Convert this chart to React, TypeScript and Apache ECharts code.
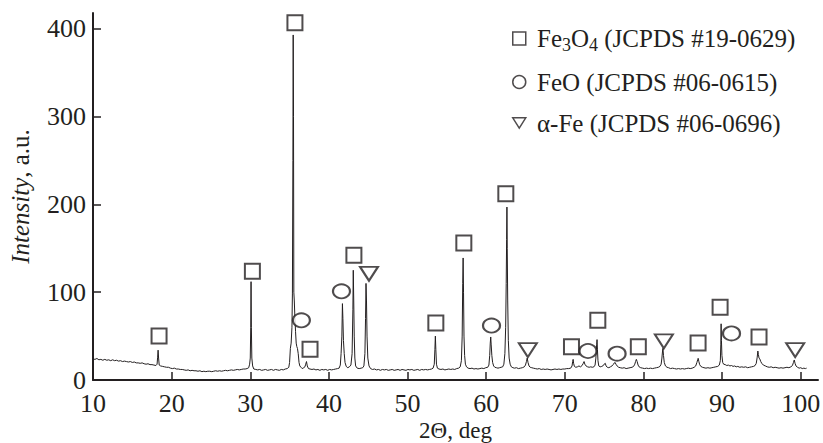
import { useEffect, useRef } from "react";
import * as echarts from "echarts";

// 2θ (deg), intensity (a.u.)
const xrdPattern: [number, number][] = [
  [10.0,24],[10.25,23.5],[10.5,24.5],[10.75,23],[11.0,23.5],[11.25,22.5],[11.5,23.5],[11.75,22.5],[12.0,23],[12.25,22],[12.5,23],[12.75,22],[13.0,22.5],[13.25,21.5],[13.5,22],[13.75,21],[14.0,21.5],[14.25,21],[14.5,20.5],[14.75,21],[15.0,20],[15.25,20.5],[15.5,19.5],[15.75,19.5],[16.0,19],[16.25,19.5],[16.5,18.5],[16.75,18],[17.0,18.5],[17.25,17.5],[17.5,17.5],[17.75,17],[18.0,16.5],[18.15,18],[18.22,26],[18.28,34],[18.34,25],[18.42,17],[18.6,16],[18.85,15.5],[19.1,15],[19.35,14.5],[19.6,14.5],[19.85,13.5],[20.1,13],[20.35,13.5],[20.6,12.5],[20.85,12.5],[21.1,12],[21.35,12],[21.6,11.5],[21.85,11],[22.1,11.5],[22.35,10.5],[22.6,11],[22.85,10.5],[23.1,10.5],[23.35,10],[23.6,10.5],[23.85,9.5],[24.1,10],[24.35,9.5],[24.6,10],[24.85,10],[25.1,9.5],[25.35,10],[25.6,10.5],[25.85,10],[26.1,10.5],[26.35,10],[26.6,10.5],[26.85,11],[27.1,10.5],[27.35,11],[27.6,11.5],[27.85,11],[28.1,11.5],[28.35,12],[28.6,11.5],[28.85,12],[29.1,12.5],[29.35,12.5],[29.6,13],[29.8,14],[29.92,18],[30.0,25],[30.06,60],[30.1,112],[30.14,60],[30.2,25],[30.3,16],[30.45,12.5],[30.7,12],[30.95,11.5],[31.2,12],[31.45,11],[31.7,11.5],[31.95,12],[32.2,11],[32.45,11.5],[32.7,12],[32.95,11],[33.2,12],[33.45,11.5],[33.7,11],[33.95,12],[34.2,11.5],[34.45,12.5],[34.7,13],[34.9,14.5],[35.0,20],[35.1,36],[35.2,42],[35.3,60],[35.36,99],[35.42,250],[35.46,393],[35.5,300],[35.54,100],[35.6,90],[35.68,70],[35.76,55],[35.84,42],[35.92,38],[36.0,36],[36.1,30],[36.2,20],[36.3,16],[36.45,14.5],[36.6,13],[36.8,14],[36.95,15],[37.05,18],[37.15,21],[37.25,16],[37.4,13],[37.6,12.5],[37.85,12],[38.1,12.5],[38.35,11.5],[38.6,12],[38.85,11],[39.1,12],[39.35,11.5],[39.6,12],[39.85,11],[40.1,12],[40.35,11.5],[40.6,12],[40.85,12.5],[41.1,13],[41.3,13.5],[41.45,17],[41.55,30],[41.65,50],[41.72,87],[41.78,70],[41.85,45],[41.95,30],[42.05,20],[42.2,15.5],[42.4,14],[42.6,15],[42.8,17],[42.95,30],[43.05,80],[43.1,125],[43.16,90],[43.22,50],[43.3,25],[43.4,16],[43.6,13.5],[43.85,13],[44.1,13.5],[44.3,14],[44.45,16],[44.58,30],[44.66,70],[44.72,110],[44.78,90],[44.85,50],[44.95,25],[45.1,16],[45.3,13],[45.55,12],[45.8,12.5],[46.05,11.5],[46.3,12],[46.55,11],[46.8,12],[47.05,11.5],[47.3,12],[47.55,11],[47.8,11.5],[48.05,12],[48.3,11],[48.55,11.5],[48.8,12],[49.05,11],[49.3,12],[49.55,11.5],[49.8,11],[50.05,12],[50.3,11.5],[50.55,12],[50.8,11],[51.05,11.5],[51.3,12],[51.55,11],[51.8,12],[52.05,11.5],[52.3,12],[52.55,11.5],[52.8,12],[53.05,12.5],[53.25,13.5],[53.4,18],[53.48,35],[53.54,50],[53.6,35],[53.68,18],[53.8,13.5],[54.0,12.5],[54.25,12],[54.5,12.5],[54.75,11.5],[55.0,12],[55.25,12.5],[55.5,12],[55.75,12.5],[56.0,12],[56.25,13],[56.5,13.5],[56.7,15],[56.85,22],[56.95,50],[57.02,110],[57.07,139],[57.12,100],[57.18,50],[57.26,28],[57.36,18],[57.5,15],[57.7,13.5],[57.95,13],[58.2,13.5],[58.45,12.5],[58.7,13],[58.95,12.5],[59.2,13],[59.45,13.5],[59.7,13],[59.95,14],[60.2,14.5],[60.35,17],[60.45,28],[60.52,42],[60.58,49],[60.64,40],[60.72,28],[60.82,20],[60.95,16],[61.1,14.5],[61.3,14],[61.5,13.5],[61.7,14],[61.9,14.5],[62.1,15],[62.25,18],[62.38,30],[62.48,60],[62.55,110],[62.6,160],[62.64,197],[62.68,150],[62.74,90],[62.82,45],[62.92,25],[63.05,18],[63.2,15],[63.4,14],[63.6,13.5],[63.85,14],[64.1,13],[64.35,13.5],[64.6,14],[64.85,15],[65.0,17],[65.12,21],[65.22,25],[65.32,20],[65.45,16],[65.6,14.5],[65.8,14],[66.0,13.5],[66.25,13],[66.5,12.5],[66.75,13],[67.0,12],[67.25,12.5],[67.5,12],[67.75,12.5],[68.0,12],[68.25,11.5],[68.5,12],[68.75,12.5],[69.0,12],[69.25,12.5],[69.5,12],[69.75,12.5],[70.0,12.5],[70.25,13],[70.5,13],[70.75,13.5],[70.92,16],[71.0,21],[71.06,23.5],[71.12,19],[71.22,15.5],[71.4,14.5],[71.6,15],[71.8,16],[72.0,15],[72.2,16.5],[72.35,19],[72.45,21],[72.55,18],[72.7,16],[72.9,15],[73.1,14.5],[73.3,15],[73.5,14.5],[73.7,15],[73.85,17],[73.95,25],[74.05,40],[74.1,46],[74.15,35],[74.22,22],[74.32,16],[74.5,15],[74.7,15.5],[74.9,16.5],[75.05,18.5],[75.15,19],[75.25,16],[75.4,14.5],[75.6,14],[75.8,15],[76.0,16],[76.15,17.5],[76.3,19.5],[76.4,20],[76.5,18],[76.65,16],[76.85,14.5],[77.05,14],[77.3,13.5],[77.55,14],[77.8,13],[78.05,13.5],[78.3,14],[78.55,14.5],[78.75,15.5],[78.9,18],[79.0,21],[79.1,23.5],[79.2,21],[79.32,17],[79.45,15],[79.65,14],[79.9,13.5],[80.15,13],[80.4,13.5],[80.65,13],[80.9,13.5],[81.15,13],[81.4,13.5],[81.65,14],[81.9,14.5],[82.1,15.5],[82.25,18],[82.35,25],[82.43,33],[82.48,36],[82.55,28],[82.65,20],[82.8,16],[83.0,14.5],[83.2,14],[83.45,13],[83.7,13.5],[83.95,13],[84.2,12.5],[84.45,13],[84.7,12.5],[84.95,13],[85.2,12.5],[85.45,13],[85.7,13.5],[85.95,13],[86.2,13.5],[86.45,14.5],[86.65,16],[86.8,20],[86.9,23],[86.96,24.7],[87.05,21],[87.15,17.5],[87.3,15.5],[87.5,14.5],[87.7,14],[87.95,13.5],[88.2,14],[88.45,13.5],[88.7,14],[88.95,14.5],[89.2,15],[89.45,15.5],[89.65,17],[89.78,22],[89.84,40],[89.88,64],[89.92,45],[89.98,28],[90.08,20],[90.2,18],[90.4,17.5],[90.6,16.5],[90.8,17],[91.0,16],[91.2,16.5],[91.4,15.5],[91.6,16],[91.8,15],[92.0,15.5],[92.25,14.5],[92.5,15],[92.75,14.5],[93.0,15],[93.25,14],[93.5,14.5],[93.75,15],[94.0,15.5],[94.2,16.5],[94.35,19],[94.47,26],[94.55,33],[94.62,29],[94.7,25],[94.8,24],[94.92,21],[95.05,19],[95.25,17],[95.5,16],[95.75,15],[96.0,14.5],[96.25,15],[96.5,14],[96.75,14.5],[97.0,14],[97.25,13.5],[97.5,14],[97.75,13.5],[98.0,14],[98.25,14.5],[98.5,14],[98.75,15],[98.95,16.5],[99.08,20],[99.18,22.8],[99.28,19],[99.4,16],[99.6,14.5],[99.8,13.5],[100.0,14],[100.2,13],[100.4,13.5],[100.6,13],[100.75,13.5]
];

// phase markers: [2θ, marker height]
const fe3o4Peaks: [number, number][] = [
  [18.4,50],[30.27,124],[35.68,407],[37.6,35],[43.18,142],[53.6,65],[57.16,156],[62.5,212],[70.85,38],[74.2,68],[79.35,38],[86.95,42],[89.75,83],[94.7,49]
];
const feoPeaks: [number, number][] = [
  [36.5,68],[41.6,101],[60.68,62],[72.95,33],[76.65,30],[91.2,53]
];
const alphaFePeaks: [number, number][] = [
  [45.1,121],[65.3,34],[82.6,44],[99.3,34]
];

const xTicks = [10, 20, 30, 40, 50, 60, 70, 80, 90, 100];
const yTicks = [0, 100, 200, 300, 400];

const seriesNames = ["Fe3O4", "FeO", "α-Fe"];
const legendLabels: Record<string, string> = {
  "Fe3O4": "{a| Fe}{s|3}{a|O}{s|4}{a| (JCPDS #19-0629)}",
  "FeO": "{a| FeO (JCPDS #06-0615)}",
  "α-Fe": "{a| α-Fe (JCPDS #06-0696)}",
};

const INK = "#231f20";
const SERIF = "Liberation Serif";

export default function App() {
  const ref = useRef<HTMLDivElement>(null);
  useEffect(() => {
    document.body.style.margin = "0";
    const chart = echarts.init(ref.current!, null, { renderer: "svg" });
    const markerStyle = { color: "#ffffff", borderColor: INK, borderWidth: 2 };
    chart.setOption({
      animation: false,
      backgroundColor: "#ffffff",
      textStyle: { fontFamily: SERIF },
      grid: { left: 93, right: 5, top: 13, bottom: 63, containLabel: false, outerBoundsMode: "none" },
      legend: {
        data: [
          { name: seriesNames[0], icon: "rect" },
          { name: seriesNames[1], icon: "circle" },
          { name: seriesNames[2], icon: "path://M0,0L20,0L10,16Z" },
        ],
        orient: "vertical",
        left: 512,
        top: 26,
        padding: 0,
        itemWidth: 13,
        itemHeight: 13,
        itemGap: 16,
        selectedMode: false,
        itemStyle: { color: "#ffffff", borderColor: INK, borderWidth: 1.5 },
        formatter: (name: string) => legendLabels[name],
        textStyle: {
          fontFamily: SERIF,
          rich: {
            a: { fontFamily: SERIF, fontSize: 25, color: INK, lineHeight: 30 },
            s: { fontFamily: SERIF, fontSize: 18, color: INK, lineHeight: 16, verticalAlign: "bottom" },
          },
        },
      },
      xAxis: {
        type: "value",
        min: 10,
        max: 102.2,
        interval: 10,
        name: "2Θ, deg",
        nameLocation: "middle",
        nameGap: 41,
        nameMoveOverlap: false,
        nameTextStyle: { fontFamily: SERIF, fontSize: 23, lineHeight: 18, color: INK },
        axisLine: { show: true, onZero: false, lineStyle: { color: INK, width: 2 } },
        axisTick: { show: true, inside: true, length: 8, customValues: xTicks, lineStyle: { color: INK, width: 1.5 } },
        axisLabel: { customValues: xTicks, margin: 10, fontFamily: SERIF, fontSize: 26, color: INK },
        splitLine: { show: false },
      },
      yAxis: {
        type: "value",
        min: 0,
        max: 418,
        interval: 100,
        name: "{i|Intensity}{n|, a.u.}",
        nameLocation: "middle",
        nameGap: 60,
        nameMoveOverlap: false,
        nameTextStyle: {
          fontFamily: SERIF,
          rich: {
            i: { fontFamily: SERIF, fontSize: 25, color: INK, fontStyle: "italic" },
            n: { fontFamily: SERIF, fontSize: 25, color: INK },
          },
        },
        axisLine: { show: true, onZero: false, lineStyle: { color: INK, width: 2 } },
        axisTick: { show: true, inside: true, length: 8, customValues: yTicks, lineStyle: { color: INK, width: 1.5 } },
        axisLabel: { customValues: yTicks, margin: 7, fontFamily: SERIF, fontSize: 26, color: INK },
        splitLine: { show: false },
      },
      series: [
        {
          type: "line",
          name: "pattern",
          data: xrdPattern,
          showSymbol: false,
          symbol: "none",
          lineStyle: { color: INK, width: 1 },
          z: 2,
        },
        {
          type: "scatter",
          name: seriesNames[0],
          data: fe3o4Peaks,
          symbol: "rect",
          symbolSize: [15, 15],
          itemStyle: markerStyle,
          z: 4,
        },
        {
          type: "scatter",
          name: seriesNames[1],
          data: feoPeaks,
          symbol: "circle",
          symbolSize: [17, 14],
          itemStyle: markerStyle,
          z: 4,
        },
        {
          type: "scatter",
          name: seriesNames[2],
          data: alphaFePeaks,
          symbol: "triangle",
          symbolRotate: 180,
          symbolSize: [18, 14],
          itemStyle: markerStyle,
          z: 4,
        },
      ],
    });
    return () => chart.dispose();
  }, []);
  return <div ref={ref} style={{ position: "absolute", left: 0, top: 0, width: 823, height: 443 }} />;
}
